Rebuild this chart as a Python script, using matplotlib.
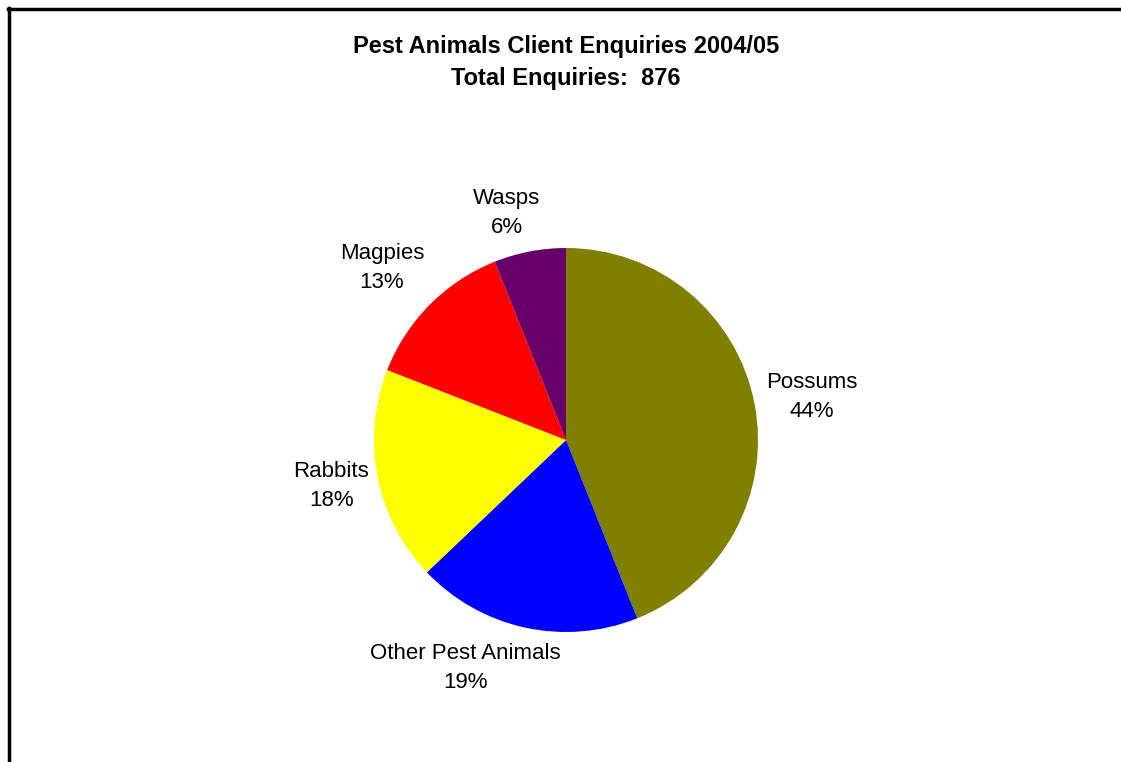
import numpy as np
import matplotlib.pyplot as plt
from matplotlib.lines import Line2D

plt.rcParams['font.family'] = ['Liberation Sans', 'DejaVu Sans']

# Enquiry counts per animal (total 876)
categories = ['Possums', 'Other Pest Animals', 'Rabbits', 'Magpies', 'Wasps']
enquiries = [385, 166, 158, 114, 53]
colors = ['#808000', '#0000FF', '#FFFF00', '#FF0000', '#660066']
# label placement: distance from centre (in radii) and angle shift (deg)
label_dist = [1.30, 1.30, 1.245, 1.31, 1.22]
label_shift = [-0.9, -11.4, 0.0, 1.8, 3.8]

total = sum(enquiries)
pct = [round(100 * v / total) for v in enquiries]
labels = [f"{c}\n{p}%" for c, p in zip(categories, pct)]

fig = plt.figure(figsize=(11.21, 7.62), dpi=100)
W, H = 1121, 762

# pie axes, centre about (566, 440) px, radius 192 px
cx, cy, r = 566, 440, 192
ax = fig.add_axes([(cx - r) / W, (H - cy - r) / H, 2 * r / W, 2 * r / H])

wedges, texts = ax.pie(enquiries, labels=labels, colors=colors, startangle=90,
                       counterclock=False, wedgeprops=dict(linewidth=0),
                       textprops=dict(fontsize=16, linespacing=1.5))
ax.set_xlim(-1, 1)
ax.set_ylim(-1, 1)
ax.set_aspect('equal')

# reposition labels around each wedge's mid angle
for w, t, d, s in zip(wedges, texts, label_dist, label_shift):
    ang = np.deg2rad((w.theta1 + w.theta2) / 2 + s)
    t.set_position((d * np.cos(ang), d * np.sin(ang)))
    t.set_ha('center')
    t.set_va('center')
    t.set_multialignment('center')

fig.text(566 / W, 1 - 47 / H, 'Pest Animals Client Enquiries 2004/05',
         ha='center', va='center', fontsize=17, fontweight='bold')
fig.text(566 / W, 1 - 78 / H, f'Total Enquiries:  {total}',
         ha='center', va='center', fontsize=17, fontweight='bold')

# chart border (cropped on the right and bottom)
fig.add_artist(Line2D([8 / W, 1], [1 - 9 / H, 1 - 9 / H], color='black', lw=2.5,
                      transform=fig.transFigure))
fig.add_artist(Line2D([9 / W, 9 / W], [0, 1 - 8 / H], color='black', lw=2.5,
                      transform=fig.transFigure))

fig.savefig('out.png', dpi=100)
